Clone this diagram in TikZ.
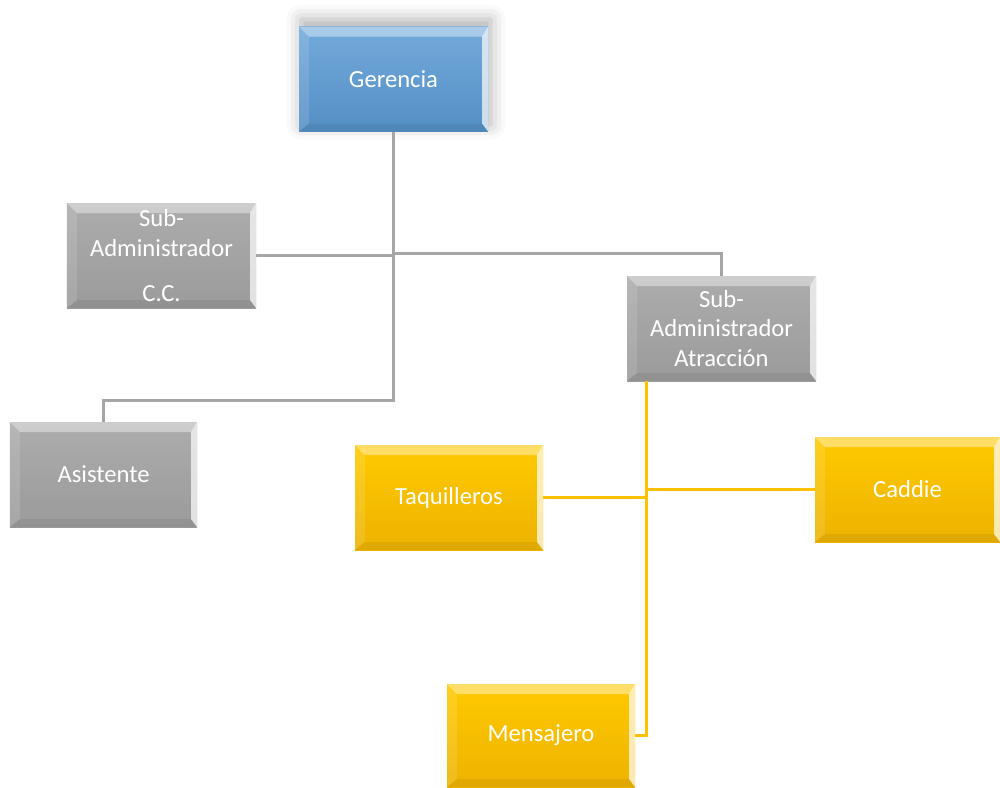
\documentclass[tikz,border=0pt]{standalone}
\usepackage{fontspec}
\setmainfont{Carlito}
\usetikzlibrary{shadows.blur}
\definecolor{gerblue}{HTML}{5B9BD5}
\definecolor{boxgray}{HTML}{A3A3A3}
\definecolor{boxgold}{HTML}{FFC000}
\definecolor{linegray}{HTML}{A6A6A6}
\definecolor{linegold}{HTML}{FFC000}
\tikzstyle{orgbox}=[rectangle, inner sep=0pt, minimum width=37.8mm, minimum height=21mm,
  align=center, text=white, font=\fontsize{14}{17}\selectfont,
  path picture={
    \path (path picture bounding box.north west) coordinate (bnw)
          (path picture bounding box.north east) coordinate (bne)
          (path picture bounding box.south west) coordinate (bsw)
          (path picture bounding box.south east) coordinate (bse);
    \fill[white, opacity=0.4] (bnw) -- (bne) -- ([xshift=-1.2mm,yshift=-2mm]bne)
      -- ([xshift=2mm,yshift=-2mm]bnw) -- cycle;
    \fill[white, opacity=0.12] (bnw) -- ([xshift=2mm,yshift=-2mm]bnw)
      -- ([xshift=2mm,yshift=1.6mm]bsw) -- (bsw) -- cycle;
    \fill[white, opacity=0.7] (bne) -- ([xshift=-1.2mm,yshift=-2mm]bne)
      -- ([xshift=-1.2mm,yshift=1.6mm]bse) -- (bse) -- cycle;
    \fill[black, opacity=0.06] (bsw) -- ([xshift=2mm,yshift=1.6mm]bsw)
      -- ([xshift=-1.2mm,yshift=1.6mm]bse) -- (bse) -- cycle;
  }]
\tikzstyle{bluebox}=[orgbox, top color=gerblue!85!white, bottom color=gerblue!92!black]
\tikzstyle{graybox}=[orgbox, top color=boxgray!90!white, bottom color=boxgray!95!black]
\tikzstyle{goldbox}=[orgbox, top color=boxgold!85!yellow, bottom color=boxgold!93!black]
\tikzstyle{grayline}=[draw=linegray, line width=1.6pt]
\tikzstyle{goldline}=[draw=linegold, line width=1.6pt]

\begin{document}
\begin{tikzpicture}[x=0.2mm, y=-0.2mm]
        \useasboundingbox (0, 0) rectangle (1000, 787);
        % top level
        \node[bluebox, blur shadow={shadow xshift=0.5mm, shadow yshift=1.4mm,
              shadow blur radius=3mm, shadow opacity=32}]  (ger) at (393.5, 79) {Gerencia};
        % sub administrators and assistant
        \node[graybox] (subcc)  at (161.5, 255.5) {Sub-\\Administrador\\[8.5pt]C.C.};
        \node[graybox] (subatr) at (721.5, 328.5) {Sub-\\Administrador\\Atracción};
        \node[graybox, minimum width=37.4mm] (asi) at (103.5, 474.5) {Asistente};
        % staff under atraccion
        \node[goldbox, minimum width=37.6mm] (taq) at (449, 497.5) {Taquilleros};
        \node[goldbox, minimum width=37mm]   (cad) at (907.5, 489.5) {Caddie};
        \node[goldbox, minimum width=37.6mm, minimum height=20.6mm] (men) at (541, 735.5) {Mensajero};
        % gray connectors
        \path (ger.south) ++(0, 122) coordinate (split);
        \draw[grayline] (ger.south) -- ++(0, 269) -| (asi.north);
        \draw[grayline] (subcc.east) -- (subcc.east -| ger.south);
        \draw[grayline] (split) -| (subatr.north);
        % gold connectors
        \coordinate (drop) at ([xshift=4mm]subatr.south west);
        \draw[goldline] (drop) |- (men.east);
        \draw[goldline] (taq.east) -- (taq.east -| drop);
        \draw[goldline] (cad.west) -- (cad.west -| drop);
    \end{tikzpicture}
\end{document}
